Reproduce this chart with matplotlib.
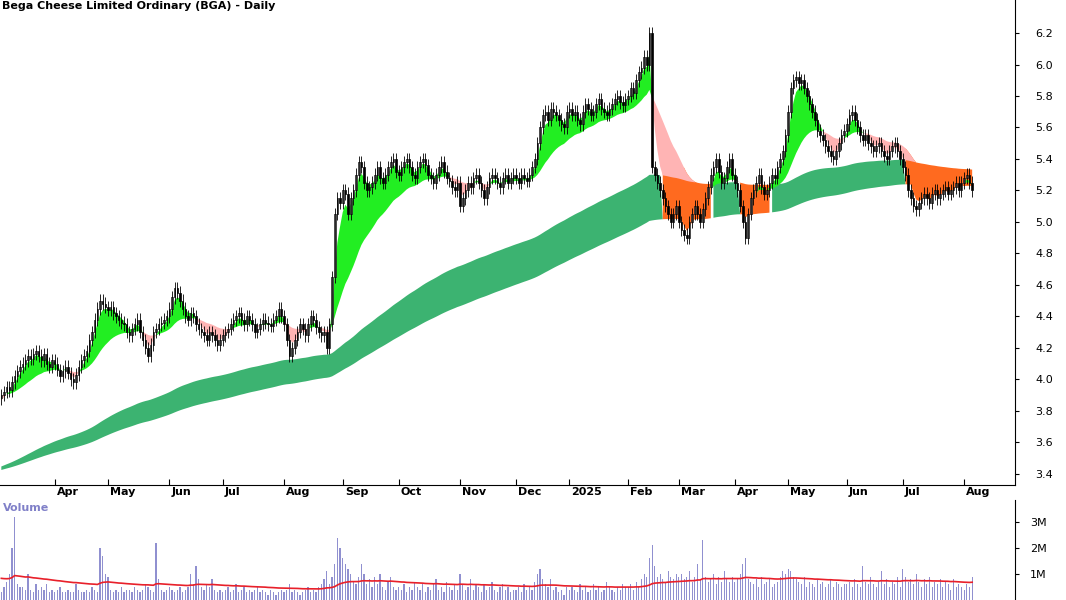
"""Bega Cheese (BGA) daily candles with GMMA-style bands and volume."""
import numpy as np
import matplotlib
matplotlib.use("Agg")
import matplotlib.pyplot as plt

# ── Data ──────────────────────────────────────────────────────────────────
# one list per month of daily closes; month labels in the same order
month_labels = ["", "Apr", "May", "Jun", "Jul", "Aug", "Sep", "Oct", "Nov", "Dec",
                "2025", "Feb", "Mar", "Apr", "May", "Jun", "Jul", "Aug"]
month_closes = [
    [3.90, 3.92, 3.95, 3.93, 3.98, 4.02, 4.05, 4.08, 4.10, 4.12, 4.15, 4.13, 4.16, 4.18, 4.15, 4.12, 4.16, 4.10, 4.08, 4.12],
    [4.10, 4.06, 4.02, 4.05, 4.08, 4.04, 4.00, 3.98, 4.03, 4.08, 4.12, 4.15, 4.18, 4.25, 4.30, 4.38, 4.45, 4.50, 4.48, 4.46],
    [4.44, 4.46, 4.42, 4.40, 4.38, 4.36, 4.35, 4.30, 4.28, 4.32, 4.35, 4.38, 4.30, 4.25, 4.20, 4.15, 4.22, 4.30, 4.32, 4.35, 4.36, 4.38, 4.40],
    [4.45, 4.52, 4.58, 4.55, 4.50, 4.45, 4.40, 4.38, 4.42, 4.40, 4.35, 4.32, 4.30, 4.28, 4.25, 4.30, 4.28, 4.25, 4.22, 4.25],
    [4.28, 4.30, 4.32, 4.35, 4.38, 4.40, 4.42, 4.38, 4.35, 4.40, 4.38, 4.35, 4.30, 4.32, 4.35, 4.38, 4.36, 4.35, 4.34, 4.38, 4.40, 4.45, 4.40],
    [4.35, 4.25, 4.15, 4.20, 4.25, 4.30, 4.35, 4.32, 4.28, 4.35, 4.40, 4.38, 4.33, 4.30, 4.28, 4.30, 4.20, 4.35, 4.65, 5.05, 5.15, 5.12],
    [5.20, 5.18, 5.05, 5.15, 5.20, 5.30, 5.38, 5.35, 5.25, 5.20, 5.22, 5.25, 5.30, 5.35, 5.28, 5.25, 5.30, 5.35, 5.38, 5.40, 5.32],
    [5.30, 5.35, 5.38, 5.40, 5.35, 5.30, 5.28, 5.35, 5.38, 5.40, 5.36, 5.30, 5.28, 5.25, 5.30, 5.35, 5.38, 5.32, 5.28, 5.26, 5.22, 5.20, 5.25],
    [5.10, 5.15, 5.20, 5.25, 5.22, 5.28, 5.30, 5.25, 5.20, 5.15, 5.22, 5.28, 5.30, 5.28, 5.25, 5.22, 5.28, 5.30, 5.25, 5.28, 5.30],
    [5.28, 5.25, 5.30, 5.28, 5.26, 5.30, 5.35, 5.40, 5.50, 5.60, 5.68, 5.70, 5.65, 5.72, 5.70, 5.68, 5.65, 5.62, 5.60, 5.70],
    [5.72, 5.68, 5.70, 5.65, 5.62, 5.70, 5.75, 5.72, 5.68, 5.70, 5.75, 5.78, 5.72, 5.70, 5.68, 5.72, 5.75, 5.78, 5.80, 5.76, 5.74, 5.78],
    [5.80, 5.85, 5.82, 5.90, 5.95, 5.98, 6.05, 6.00, 6.20, 5.35, 5.30, 5.25, 5.20, 5.15, 5.10, 5.05, 5.00, 5.05, 5.10],
    [5.00, 4.95, 4.92, 4.90, 5.00, 5.05, 5.10, 5.05, 5.00, 5.08, 5.15, 5.22, 5.30, 5.35, 5.40, 5.32, 5.25, 5.28, 5.35, 5.40, 5.30],
    [5.25, 5.20, 5.10, 5.00, 4.90, 5.05, 5.15, 5.20, 5.25, 5.30, 5.22, 5.18, 5.20, 5.25, 5.30, 5.28, 5.35, 5.40, 5.45, 5.55],
    [5.70, 5.85, 5.90, 5.92, 5.88, 5.90, 5.85, 5.80, 5.75, 5.70, 5.65, 5.58, 5.55, 5.52, 5.48, 5.45, 5.42, 5.40, 5.45, 5.50, 5.55, 5.58],
    [5.62, 5.68, 5.70, 5.65, 5.60, 5.55, 5.52, 5.55, 5.50, 5.48, 5.45, 5.48, 5.50, 5.45, 5.42, 5.40, 5.45, 5.48, 5.50, 5.45, 5.40],
    [5.35, 5.30, 5.20, 5.15, 5.10, 5.08, 5.12, 5.15, 5.18, 5.15, 5.12, 5.18, 5.20, 5.15, 5.18, 5.20, 5.22, 5.18, 5.20, 5.22, 5.25, 5.20, 5.25],
    [5.28, 5.30, 5.25, 5.20],
]
first_open = 3.88

# volume in millions, one per bar, same month grouping
month_volume = [
    [0.3, 0.5, 0.7, 1.0, 2.0, 3.2, 0.6, 0.5, 0.5, 0.4, 1.0, 0.4, 0.3, 0.6, 0.4, 0.5, 0.4, 0.6, 0.3, 0.4],
    [0.3, 0.4, 0.5, 0.3, 0.3, 0.4, 0.3, 0.3, 0.6, 0.4, 0.3, 0.3, 0.4, 0.3, 0.5, 0.4, 0.3, 2.0, 1.7, 1.0],
    [0.9, 0.4, 0.3, 0.4, 0.3, 0.5, 0.3, 0.4, 0.4, 0.3, 0.5, 0.4, 0.3, 0.4, 0.6, 0.5, 0.4, 0.3, 2.2, 0.8, 0.4, 0.3, 0.4],
    [0.5, 0.4, 0.3, 0.4, 0.5, 0.3, 0.4, 0.5, 1.0, 0.6, 1.3, 0.8, 0.5, 0.4, 0.6, 0.5, 0.8, 0.4, 0.3, 0.4],
    [0.3, 0.4, 0.5, 0.3, 0.4, 0.6, 0.3, 0.4, 0.5, 0.3, 0.4, 0.3, 0.4, 0.5, 0.3, 0.4, 0.3, 0.2, 0.4, 0.3, 0.2, 0.3, 0.4],
    [0.3, 0.4, 0.6, 0.3, 0.4, 0.3, 0.2, 0.3, 0.4, 0.5, 0.3, 0.4, 0.3, 0.5, 0.6, 0.8, 1.1, 0.6, 0.9, 1.4, 2.4, 2.0],
    [1.6, 1.4, 1.2, 1.0, 0.7, 0.6, 0.9, 1.4, 1.0, 0.6, 0.8, 0.5, 0.9, 0.6, 1.0, 0.5, 0.4, 0.7, 0.9, 0.5, 0.4],
    [0.5, 0.4, 0.6, 0.3, 0.5, 0.4, 0.7, 0.5, 0.4, 0.6, 0.3, 0.5, 0.4, 0.6, 0.8, 0.4, 0.5, 0.3, 0.7, 0.5, 0.4, 0.6, 0.4],
    [1.0, 0.6, 0.4, 0.5, 0.8, 0.4, 0.6, 0.5, 0.3, 0.6, 0.4, 0.5, 0.7, 0.4, 0.3, 0.5, 0.6, 0.4, 0.5, 0.3, 0.4],
    [0.4, 0.5, 0.3, 0.6, 0.4, 0.5, 0.4, 0.7, 1.0, 1.2, 0.8, 0.6, 0.5, 0.8, 0.4, 0.5, 0.3, 0.4, 0.2, 0.5],
    [0.4, 0.5, 0.4, 0.3, 0.6, 0.4, 0.5, 0.3, 0.4, 0.6, 0.4, 0.5, 0.3, 0.4, 0.7, 0.5, 0.4, 0.3, 0.5, 0.4, 0.6, 0.5],
    [0.5, 0.6, 0.4, 0.7, 0.5, 0.8, 1.0, 0.9, 1.6, 2.1, 1.3, 0.9, 1.0, 0.8, 0.7, 1.1, 0.9, 0.8, 1.0],
    [0.9, 1.0, 0.8, 0.9, 1.1, 0.7, 0.9, 1.4, 0.8, 2.3, 0.9, 0.7, 0.8, 1.0, 0.6, 0.9, 0.7, 1.1, 0.8, 0.7, 0.9],
    [0.7, 0.8, 1.0, 1.4, 1.6, 0.8, 0.7, 0.6, 0.8, 0.5, 0.9, 0.6, 0.7, 0.8, 0.5, 0.6, 0.7, 0.9, 1.1, 1.0],
    [1.2, 1.1, 0.9, 0.8, 0.7, 0.6, 0.9, 0.5, 0.7, 0.6, 0.5, 0.8, 0.6, 0.7, 0.5, 0.6, 0.8, 0.5, 0.7, 0.6, 0.5, 0.6],
    [0.6, 0.7, 0.5, 0.8, 0.6, 0.5, 1.3, 0.7, 0.6, 0.9, 0.6, 0.5, 0.7, 1.1, 0.6, 0.8, 0.5, 0.7, 0.6, 0.9, 0.5],
    [1.2, 0.9, 0.7, 0.8, 0.6, 1.0, 0.7, 0.5, 0.8, 0.6, 0.9, 0.5, 0.7, 0.6, 0.8, 0.5, 0.7, 0.6, 0.4, 0.8, 0.5, 0.6, 0.5],
    [0.4, 0.6, 0.5, 0.9],
]

short_seed = [3.84, 3.90]     # fast/slow short-band start values
long_seed = [3.44, 3.42]      # fast/slow long-band start values
short_spans = [4, 25]
long_spans = [140, 220]
vol_avg_seed = 0.85
price_ticks = [3.4, 3.6, 3.8, 4.0, 4.2, 4.4, 4.6, 4.8, 5.0, 5.2, 5.4, 5.6, 5.8, 6.0, 6.2]

closes = np.array([c for m in month_closes for c in m])
volume = np.array([v for m in month_volume for v in m])
n = len(closes)
opens = np.concatenate([[first_open], closes[:-1]])
x = np.arange(n)
month_starts = np.cumsum([0] + [len(m) for m in month_closes[:-1]])


def ema(values, span, seed):
    a = 2.0 / (span + 1)
    out = np.empty(len(values))
    prev = seed
    for i, v in enumerate(values):
        prev = prev + a * (v - prev)
        out[i] = prev
    return out


s_fast = ema(closes, short_spans[0], short_seed[0])
s_slow = ema(closes, short_spans[1], short_seed[1])
l_fast = ema(closes, long_spans[0], long_seed[0])
l_slow = ema(closes, long_spans[1], long_seed[1])
s_lo, s_hi = np.minimum(s_fast, s_slow), np.maximum(s_fast, s_slow)
l_lo, l_hi = np.minimum(l_fast, l_slow), np.maximum(l_fast, l_slow)

fig = plt.figure(figsize=(10.66, 6.0), dpi=100)
ax = fig.add_axes([0.0, 0.192, 0.952, 0.808])
axv = fig.add_axes([0.0, 0.0, 0.952, 0.167])

# ── Bands ─────────────────────────────────────────────────────────────────
rising = s_fast >= s_slow
long_ok = s_fast >= l_hi
ax.fill_between(x, l_lo, l_hi, where=long_ok, color="#3cb371", lw=0, interpolate=True)
ax.fill_between(x, np.minimum(l_lo, s_lo), np.maximum(l_hi, np.minimum(s_hi, l_hi + 0.08)),
                where=~long_ok, color="#ff6a1f", lw=0, interpolate=True)
ax.fill_between(x, s_lo, s_hi, where=rising, color="#22ee22", lw=0, interpolate=True)
ax.fill_between(x, np.maximum(s_lo, l_hi), s_hi, where=~rising & (s_hi > l_hi),
                color="#ffb4b4", lw=0, interpolate=True)

# ── Candles ───────────────────────────────────────────────────────────────
hi = np.maximum(opens, closes) + 0.04
lo = np.minimum(opens, closes) - 0.04
ax.vlines(x, lo, hi, color="black", lw=0.6)
up = closes >= opens
body = np.abs(closes - opens)
body = np.where(body < 0.008, 0.008, body)
ax.bar(x[up], body[up], bottom=opens[up], width=0.6, color="white",
       edgecolor="black", lw=0.5)
ax.bar(x[~up], body[~up], bottom=closes[~up], width=0.6, color="black",
       edgecolor="black", lw=0.5)

# ── Price axis styling ────────────────────────────────────────────────────
xlim = (-0.5, 380)
ax.set_xlim(*xlim)
ax.set_ylim(3.33, 6.41)
ax.yaxis.tick_right()
ax.set_yticks(price_ticks)
ax.set_yticklabels([f"{t:.1f}" for t in price_ticks], fontsize=8)
ax.tick_params(axis="y", direction="out", length=3, pad=12)
for sp in ["top", "left"]:
    ax.spines[sp].set_visible(False)

ax.set_xticks(month_starts[1:])
ax.set_xticklabels([])
ax.tick_params(axis="x", direction="in", length=4)
for i, lab in zip(month_starts[1:], month_labels[1:]):
    ax.text(i + 0.8, 3.33 - 0.015, lab, fontsize=8, fontweight="bold",
            ha="left", va="top", clip_on=False)
ax.text(0.002, 0.997, "Bega Cheese Limited Ordinary (BGA) - Daily",
        transform=ax.transAxes, fontsize=8, fontweight="bold", va="top")

# ── Volume ────────────────────────────────────────────────────────────────
axv.bar(x, volume, width=0.45, color="#9090d0")
vol_ma = ema(volume, 60, vol_avg_seed)
axv.plot(x, vol_ma, color="#e8202a", lw=1.2)
axv.set_xlim(*xlim)
axv.set_ylim(0, 3.85)
axv.yaxis.tick_right()
axv.set_yticks([1, 2, 3])
axv.set_yticklabels(["1M", "2M", "3M"], fontsize=8)
axv.tick_params(axis="y", direction="out", length=3, pad=8)
axv.set_xticks([])
for sp in ["top", "left", "bottom"]:
    axv.spines[sp].set_visible(False)
axv.text(0.003, 0.97, "Volume", transform=axv.transAxes, color="#8080c8",
         fontsize=8, fontweight="bold", va="top")

fig.savefig("out.png", dpi=100)
